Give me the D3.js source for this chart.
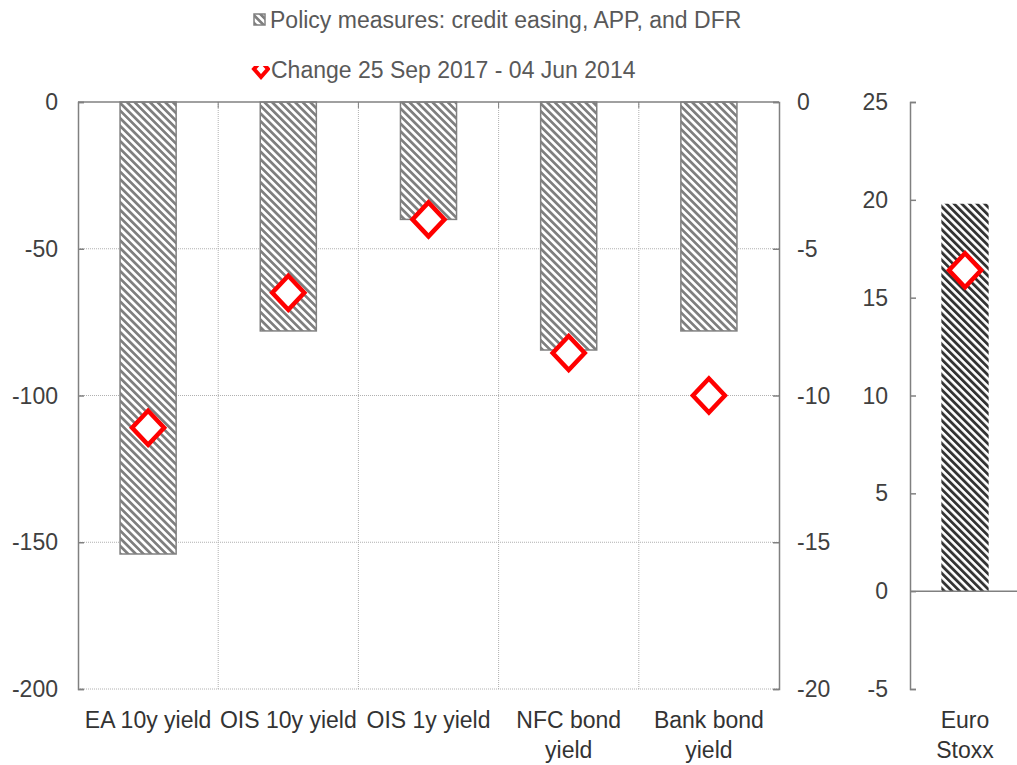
<!DOCTYPE html>
<html>
<head>
<meta charset="utf-8">
<script src="https://cdn.jsdelivr.net/npm/d3@7"></script>
<style>
  body { margin: 0; background: #fff; }
  text { font-family: "Liberation Sans", Arial, sans-serif; }
</style>
</head>
<body>
<script>
const categories = ['EA 10y yield', 'OIS 10y yield', 'OIS 1y yield', 'NFC bond yield', 'Bank bond yield']
const categoryLines = [['EA 10y yield'], ['OIS 10y yield'], ['OIS 1y yield'], ['NFC bond', 'yield'], ['Bank bond', 'yield']]
const policyMeasures = [-154, -78, -40, -84.5, -78]
const changeSince2014 = [-111, -65, -40, -85.5, -100]
const leftTicks = [0, -50, -100, -150, -200]
const rightTicks = [0, -5, -10, -15, -20]

const stoxxCategory = ['Euro Stoxx']
const stoxxPolicy = [19.8]
const stoxxChange = [16.4]
const stoxxTicks = [25, 20, 15, 10, 5, 0, -5]

const width = 1017
const height = 765
const fontSize = 23
const plotTop = 102, plotBottom = 689

const svg = d3.select('body').append('svg')
  .attr('width', width)
  .attr('height', height)

const defs = svg.append('defs')
function hatch(id, color, size, stripe) {
  const p = defs.append('pattern')
    .attr('id', id)
    .attr('patternUnits', 'userSpaceOnUse')
    .attr('width', size)
    .attr('height', size)
    .attr('patternTransform', 'rotate(-45)')
  p.append('rect').attr('width', size).attr('height', size).attr('fill', '#fff')
  p.append('rect').attr('width', stripe).attr('height', size).attr('fill', color)
}
hatch('hatchGrey', '#7f7f7f', 5.4, 2.7)
hatch('hatchDark', '#333333', 5.4, 2.8)

// main panel
const x0 = 78, x1 = 779
const xScale = d3.scaleBand()
  .domain(categories)
  .range([x0, x1])
  .paddingInner(0.6)
  .paddingOuter(0.3)

const yLeft = d3.scaleLinear().domain([-200, 0]).range([plotBottom, plotTop])
const yRight = d3.scaleLinear().domain([-20, 0]).range([plotBottom, plotTop])

const grid = svg.append('g')
grid.selectAll('line.h')
  .data(leftTicks.filter(d => d !== 0))
  .join('line')
  .attr('class', 'h')
  .attr('x1', x0).attr('x2', x1)
  .attr('y1', d => yLeft(d)).attr('y2', d => yLeft(d))
  .attr('stroke', '#b0b0b0')
  .attr('stroke-dasharray', '1,1')

const step = xScale.step()
const bounds = categories.slice(1).map(c => xScale(c) - xScale.paddingInner() * step / 2)
grid.selectAll('line.v')
  .data(bounds)
  .join('line')
  .attr('class', 'v')
  .attr('x1', d => d).attr('x2', d => d)
  .attr('y1', plotTop).attr('y2', plotBottom)
  .attr('stroke', '#b0b0b0')
  .attr('stroke-dasharray', '1,1')
grid.selectAll('line.vt')
  .data(bounds)
  .join('line')
  .attr('class', 'vt')
  .attr('x1', d => d).attr('x2', d => d)
  .attr('y1', plotTop).attr('y2', plotTop + 6)
  .attr('stroke', '#808080')

svg.append('g').selectAll('rect')
  .data(categories)
  .join('rect')
  .attr('x', d => xScale(d))
  .attr('y', plotTop)
  .attr('width', xScale.bandwidth())
  .attr('height', (d, i) => yLeft(policyMeasures[i]) - plotTop)
  .attr('fill', 'url(#hatchGrey)')
  .attr('stroke', '#808080')
  .attr('stroke-width', 1.5)

const leftAxis = svg.append('g')
  .attr('transform', `translate(${x0},0)`)
  .call(d3.axisRight(yLeft).tickValues(leftTicks).tickSize(6))
leftAxis.selectAll('text').remove()
leftAxis.append('g').selectAll('text')
  .data(leftTicks)
  .join('text')
  .attr('x', -20)
  .attr('y', d => yLeft(d))
  .attr('dy', '0.35em')
  .attr('text-anchor', 'end')
  .attr('fill', '#404040')
  .attr('font-size', fontSize)
  .text(d => d)

const rightAxis = svg.append('g')
  .attr('transform', `translate(${x1},0)`)
  .call(d3.axisLeft(yRight).tickValues(rightTicks).tickSize(6))
rightAxis.selectAll('text').remove()
rightAxis.append('g').selectAll('text')
  .data(rightTicks)
  .join('text')
  .attr('x', 18)
  .attr('y', d => yRight(d))
  .attr('dy', '0.35em')
  .attr('text-anchor', 'start')
  .attr('fill', '#404040')
  .attr('font-size', fontSize)
  .text(d => d)

// zero line on top
svg.append('line')
  .attr('x1', x0).attr('x2', x1)
  .attr('y1', yLeft(0)).attr('y2', yLeft(0))
  .attr('stroke', '#808080')
  .attr('stroke-width', 1.5)

svg.selectAll('.domain, .tick line').attr('stroke', '#808080').attr('stroke-width', 1.5)

function diamond(sel, cx, cy) {
  const w = 16, h = 17
  sel.append('path')
    .attr('d', `M${cx},${cy - h} L${cx + w},${cy} L${cx},${cy + h} L${cx - w},${cy} Z`)
    .attr('fill', '#fff')
    .attr('stroke', '#ff0000')
    .attr('stroke-width', 4.5)
    .attr('stroke-linejoin', 'miter')
}

const labels = svg.append('g')
categories.forEach((c, i) => {
  categoryLines[i].forEach((line, j) => {
    labels.append('text')
      .attr('x', xScale(c) + xScale.bandwidth() / 2)
      .attr('y', 728 + j * 30)
      .attr('text-anchor', 'middle')
      .attr('fill', '#333')
      .attr('font-size', fontSize)
      .text(line)
  })
})

// Euro Stoxx panel
const sx0 = 910, sx1 = 1020
const xStoxx = d3.scaleBand()
  .domain(stoxxCategory)
  .range([sx0, sx1])
  .paddingInner(0.57)
  .paddingOuter(0.28)
const yStoxx = d3.scaleLinear().domain([-5, 25]).range([plotBottom, plotTop])

svg.append('g').selectAll('rect')
  .data(stoxxCategory)
  .join('rect')
  .attr('x', d => xStoxx(d))
  .attr('y', (d, i) => yStoxx(stoxxPolicy[i]))
  .attr('width', xStoxx.bandwidth())
  .attr('height', (d, i) => yStoxx(0) - yStoxx(stoxxPolicy[i]))
  .attr('fill', 'url(#hatchDark)')

const stoxxAxis = svg.append('g')
  .attr('transform', `translate(${sx0},0)`)
  .call(d3.axisRight(yStoxx).tickValues(stoxxTicks).tickSize(6))
stoxxAxis.selectAll('text').remove()
stoxxAxis.selectAll('.domain, .tick line').attr('stroke', '#808080').attr('stroke-width', 1.5)
stoxxAxis.append('g').selectAll('text')
  .data(stoxxTicks)
  .join('text')
  .attr('x', -22)
  .attr('y', d => yStoxx(d))
  .attr('dy', '0.35em')
  .attr('text-anchor', 'end')
  .attr('fill', '#404040')
  .attr('font-size', fontSize)
  .text(d => d)

svg.append('line')
  .attr('x1', sx0).attr('x2', width)
  .attr('y1', yStoxx(0)).attr('y2', yStoxx(0))
  .attr('stroke', '#808080')
  .attr('stroke-width', 1.5)

// diamonds above all bars
const marks = svg.append('g')
categories.forEach((c, i) => {
  diamond(marks, xScale(c) + xScale.bandwidth() / 2, yLeft(changeSince2014[i]))
})
stoxxCategory.forEach((c, i) => {
  diamond(marks, xStoxx(c) + xStoxx.bandwidth() / 2, yStoxx(stoxxChange[i]))
})

;['Euro', 'Stoxx'].forEach((line, j) => {
  svg.append('text')
    .attr('x', xStoxx(stoxxCategory[0]) + xStoxx.bandwidth() / 2)
    .attr('y', 728 + j * 30)
    .attr('text-anchor', 'middle')
    .attr('fill', '#333')
    .attr('font-size', fontSize)
    .text(line)
})

// legend
const legend = svg.append('g')
legend.append('rect')
  .attr('x', 254).attr('y', 14)
  .attr('width', 11).attr('height', 11)
  .attr('fill', 'url(#hatchGrey)')
  .attr('stroke', '#808080')
  .attr('stroke-width', 1.5)
legend.append('text')
  .attr('x', 270).attr('y', 28)
  .attr('fill', '#595959')
  .attr('font-size', fontSize)
  .text('Policy measures: credit easing, APP, and DFR')

defs.append('clipPath').attr('id', 'legClip')
  .append('rect').attr('x', 250).attr('y', 66).attr('width', 20).attr('height', 16)
legend.append('path')
  .attr('d', 'M261,61 L268,69 L261,77 L254,69 Z')
  .attr('fill', '#fff')
  .attr('stroke', '#ff0000')
  .attr('stroke-width', 4)
  .attr('clip-path', 'url(#legClip)')
legend.append('text')
  .attr('x', 271).attr('y', 78)
  .attr('fill', '#595959')
  .attr('font-size', fontSize)
  .text('Change 25 Sep 2017 - 04 Jun 2014')
</script>
</body>
</html>
